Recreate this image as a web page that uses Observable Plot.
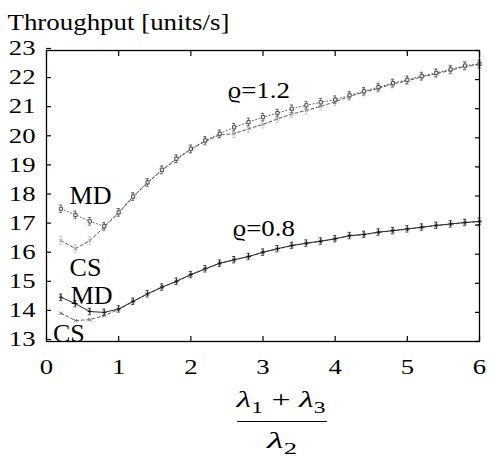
<!DOCTYPE html>
<html><head><meta charset="utf-8">
<script src="https://cdn.jsdelivr.net/npm/d3@7"></script>
<script src="https://cdn.jsdelivr.net/npm/@observablehq/plot@0.6"></script>
<style>
body{margin:0;background:#fff}
#chart svg, #chart svg text{font-family:"Liberation Serif","Times New Roman",Times,"DejaVu Serif",serif !important}
</style>
</head><body><div id="chart"></div>
<script>
const xs = [0.2,0.4,0.6,0.8,1.0,1.2,1.4,1.6,1.8,2.0,2.2,2.4,2.6,2.8,3.0,3.2,3.4,3.6,3.8,4.0,4.2,4.4,4.6,4.8,5.0,5.2,5.4,5.6,5.8,6.0];
const mdHigh = [17.56,17.35,17.13,16.96,17.44,17.98,18.47,18.90,19.28,19.62,19.91,20.14,20.36,20.54,20.71,20.85,21.00,21.12,21.22,21.31,21.46,21.60,21.74,21.88,21.99,22.12,22.23,22.35,22.48,22.54];
const csHigh = [16.47,16.19,16.47,16.93,17.42,17.97,18.45,18.88,19.26,19.60,19.88,20.10,20.14,20.31,20.46,20.65,20.82,20.94,21.08,21.24,21.42,21.57,21.70,21.85,21.96,22.09,22.20,22.32,22.45,22.52];
const mdLow = [14.52,14.30,14.03,14.00,14.12,14.38,14.64,14.87,15.07,15.30,15.50,15.69,15.81,15.92,16.07,16.19,16.30,16.38,16.45,16.53,16.64,16.68,16.76,16.81,16.87,16.93,16.99,17.04,17.09,17.13];
const csLow = [13.97,13.72,13.75,13.89,14.10,14.37,14.63,14.86,15.06,15.29,15.49,15.68,15.80,15.91,16.06,16.18,16.29,16.37,16.44,16.52,16.63,16.67,16.75,16.80,16.86,16.92,16.98,17.03,17.08,17.12];
const errHigh = 0.13, errLow = 0.11;
const xTicks = [0,1,2,3,4,5,6];
const yTicks = [13,14,15,16,17,18,19,20,21,22,23];
const caseLabels = [
  {text:"MD", x:0.61, y:18.02},
  {text:"CS", x:0.54, y:15.55},
  {text:"MD", x:0.625, y:14.58},
  {text:"CS", x:0.31, y:13.28}
];
const rhoLabels = [
  {text:"ϱ=1.2", x:2.94, y:21.63},
  {text:"ϱ=0.8", x:3.01, y:16.88}
];
const title = "Throughput [units/s]";

const rows = vals => xs.map((x,i) => ({x, y: vals[i]}));
const MDH = rows(mdHigh), CSH = rows(csHigh), MDL = rows(mdLow), CSL = rows(csLow);

function errMarks(data, e, stroke) {
  return [
    Plot.ruleX(data, {x:"x", y1:d=>d.y-e, y2:d=>d.y+e, stroke, strokeWidth:0.8}),
    Plot.ruleY(data, {y:d=>d.y+e, x1:d=>d.x-0.022, x2:d=>d.x+0.022, stroke, strokeWidth:0.8}),
    Plot.ruleY(data, {y:d=>d.y-e, x1:d=>d.x-0.022, x2:d=>d.x+0.022, stroke, strokeWidth:0.8})
  ];
}

const chart = Plot.plot({
  width:492, height:459, marginLeft:46, marginRight:13, marginTop:50, marginBottom:118,
  style:{background:"white", color:"black", overflow:"visible"},
  x:{domain:[0,6]}, y:{domain:[13,23]},
  marks:[
    Plot.lineY(MDH, {x:"x", y:"y", stroke:"#333", strokeWidth:0.8, strokeDasharray:"1,2.5"}),
    Plot.lineY(CSH, {x:"x", y:"y", stroke:"#333", strokeWidth:0.8, strokeDasharray:"3,2.5"}),
    Plot.lineY(MDL, {x:"x", y:"y", stroke:"#111", strokeWidth:0.9}),
    Plot.lineY(CSL, {x:"x", y:"y", stroke:"#333", strokeWidth:0.8, strokeDasharray:"3,2.5"}),
    ...errMarks(CSH, errHigh, "#bbb"),
    ...errMarks(MDH, errHigh, "#555"),
    ...errMarks(MDL, errLow, "#222"),
    Plot.dot(CSH, {x:"x", y:"y", symbol:"times", r:1.7, stroke:"#999", strokeWidth:0.9}),
    Plot.dot(MDH, {x:"x", y:"y", symbol:"square", r:1.8, stroke:"#444", fill:"#eee", strokeWidth:0.9}),
    Plot.dot(CSL, {x:"x", y:"y", symbol:"times", r:1.7, stroke:"#666", strokeWidth:0.9}),
    Plot.dot(MDL, {x:"x", y:"y", symbol:"plus", r:1.5, stroke:"#111", strokeWidth:0.9}),
    Plot.frame({stroke:"black", strokeWidth:1.3}),
    Plot.axisX(xTicks, {anchor:"bottom", tickSize:-5, tickPadding:23, fontSize:21, label:null, strokeWidth:1.2}),
    Plot.axisX(xTicks, {anchor:"top", tickSize:-5, tickFormat:()=>"", label:null, strokeWidth:1.2}),
    Plot.axisY(yTicks, {anchor:"left", tickSize:-5, tickPadding:16, fontSize:21, dy:-2, label:null, strokeWidth:1.2}),
    Plot.axisY(yTicks, {anchor:"right", tickSize:-5, tickFormat:()=>"", label:null, strokeWidth:1.2}),
    Plot.text(caseLabels, {x:"x", y:"y", text:"text", fontSize:26, fill:"black"}),
    Plot.text(rhoLabels, {x:"x", y:"y", text:"text", fontSize:24, fill:"black"}),
    Plot.text([title], {text:d=>d, frameAnchor:"top-left", textAnchor:"start", dx:-39, dy:-37, fontSize:23, fill:"black"})
  ]
});

const scaleBySize = {"21":1.27, "23":1.17, "24":1.12};
chart.querySelectorAll("text").forEach(t => {
  let el = t, fs = null;
  while (el && el !== chart) { if (el.getAttribute && el.getAttribute("font-size")) { fs = el.getAttribute("font-size"); break; } el = el.parentNode; }
  const s = scaleBySize[fs];
  if (s) {
    const tr = t.getAttribute("transform");
    if (tr) t.setAttribute("transform", tr + ` scale(${s},1)`);
  }
});

// fraction axis label
const svg = d3.select(chart);
const g = svg.append("g").attr("fill","black");
const num = g.append("text").attr("x",281).attr("y",407).attr("text-anchor","middle")
  .attr("font-size",23).attr("textLength",89).attr("lengthAdjust","spacingAndGlyphs");
num.append("tspan").attr("font-style","italic").text("λ");
num.append("tspan").attr("font-size",16).attr("dy",6).text("1");
num.append("tspan").attr("dy",-6).text(" + ");
num.append("tspan").attr("font-style","italic").text("λ");
num.append("tspan").attr("font-size",16).attr("dy",6).text("3");
g.append("line").attr("x1",237).attr("x2",327).attr("y1",421.5).attr("y2",421.5).attr("stroke","black").attr("stroke-width",1.2);
const den = g.append("text").attr("x",282).attr("y",448).attr("text-anchor","middle")
  .attr("font-size",23).attr("textLength",30).attr("lengthAdjust","spacingAndGlyphs");
den.append("tspan").attr("font-style","italic").text("λ");
den.append("tspan").attr("font-size",16).attr("dy",6).text("2");

document.getElementById("chart").appendChild(chart);
</script></body></html>
